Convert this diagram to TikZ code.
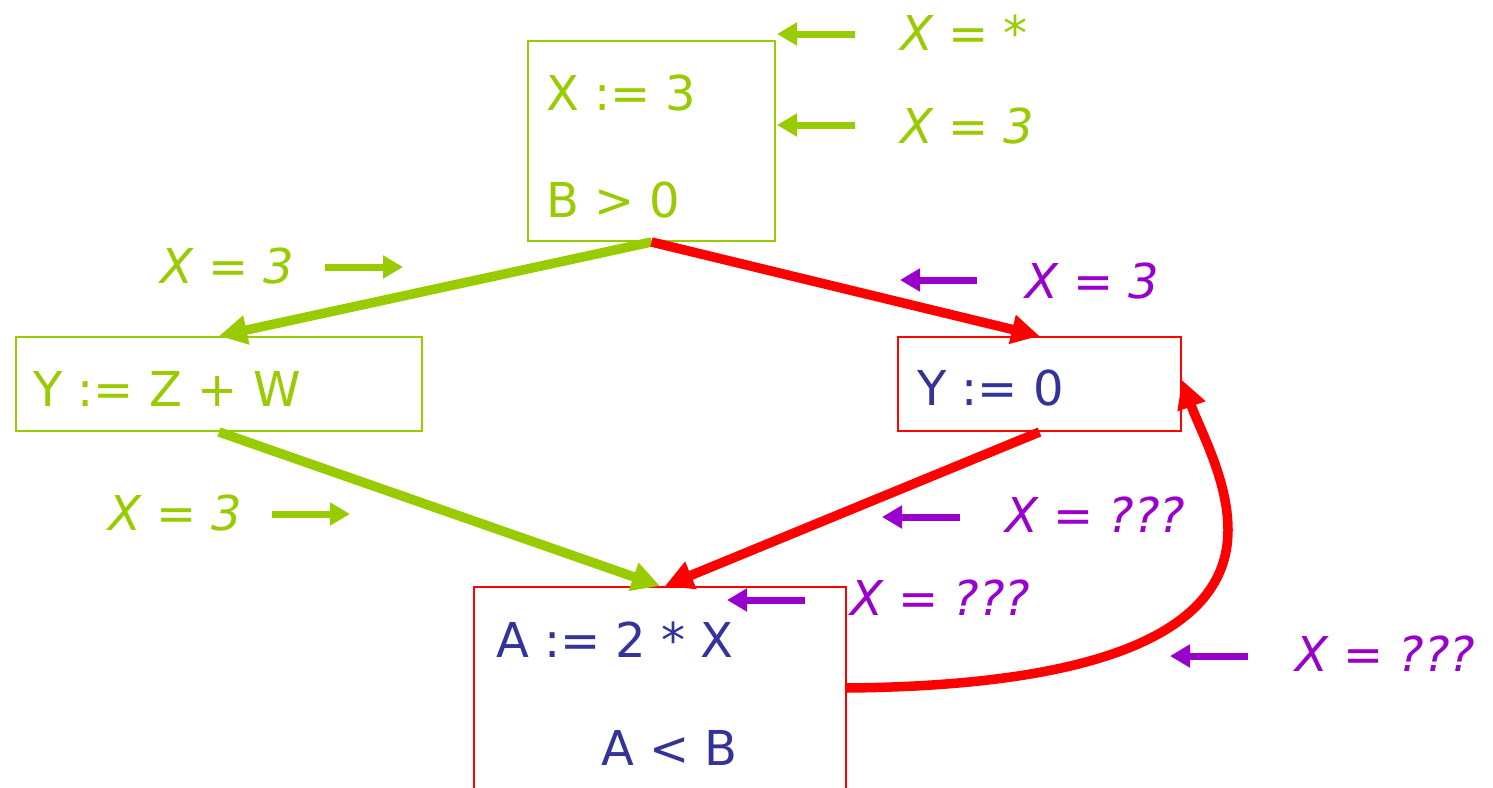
\documentclass[tikz,border=0pt]{standalone}
\usepackage{fontspec}
\setmainfont{DejaVu Sans}
\usetikzlibrary{arrows.meta}
\definecolor{cgreen}{HTML}{99CC00}
\definecolor{cred}{HTML}{FF0000}
\definecolor{cpurple}{HTML}{9900CC}
\definecolor{cnavy}{HTML}{333399}
\begin{document}
\begin{tikzpicture}[x=1pt,y=-1pt,
  box/.style={draw,line width=2pt,inner sep=0pt},
  code/.style={anchor=base west,inner sep=0pt,font=\fontsize{48}{56}\selectfont},
  lab/.style={anchor=base west,inner sep=0pt,font=\fontsize{48}{56}\selectfont\itshape},
  edge/.style={line width=9.5pt,-{Triangle[length=28pt,width=28pt]}},
  small/.style={line width=7pt,-{Triangle[length=20pt,width=22pt]}}]
\useasboundingbox[fill=white] (0,0) rectangle (1493,787);
% boxes
\node[box,draw=cgreen,minimum width=247pt,minimum height=200pt] (top) at (651.5,141) {};
\node[box,draw=cgreen,minimum width=406pt,minimum height=94pt] (left) at (219,384) {};
\node[box,draw=cred,minimum width=283pt,minimum height=94pt] (right) at (1039.5,384) {};
\node[box,draw=cred,minimum width=372pt,minimum height=226pt] (bot) at (660,700) {};
% box texts
\node[code,text=cgreen] (t1) at (546,110) {X := 3};
\node[code,text=cgreen] (t2) at (546,217) {B > 0};
\node[code,text=cgreen] (t3) at (33,406) {Y := Z + W};
\node[code,text=cnavy] (t4) at (917,405) {Y := 0};
\node[code,text=cnavy] (t5) at (496,657) {A := 2 * X};
\node[code,text=cnavy] (t6) at (601,765) {A < B};
% edges
\draw[edge,cgreen] (top.south) -- (left.north);
\draw[edge,cred] (top.south) -- (right.north);
\draw[edge,cgreen] (left.south) -- (bot.north);
\draw[edge,cred] (right.south) -- ([xshift=5pt]bot.north);
\coordinate (loopstart) at (846,688);
\coordinate (loopmid) at (1228,530);
\draw[edge,cred] (loopstart) .. controls (1080,686) and (1228,640) .. (loopmid)
  .. controls (1228,480) and (1200,430) .. ([yshift=4pt]right.east);
% labels
\node[lab,text=cgreen] (l1) at (900,50) {X = *};
\node[lab,text=cgreen] (l2) at (900,143) {X = 3};
\node[lab,text=cgreen] (l3) at (160,283) {X = 3};
\node[lab,text=cgreen] (l4) at (108,530) {X = 3};
\node[lab,text=cpurple] (l5) at (1025,298) {X = 3};
\node[lab,text=cpurple] (l6) at (1005,532) {X = ???};
\node[lab,text=cpurple] (l7) at (850,615) {X = ???};
\node[lab,text=cpurple] (l8) at (1295,671) {X = ???};
% label arrows
\coordinate (a1s) at (855,34);  \coordinate (a1e) at (777,34);
\coordinate (a2s) at (855,125); \coordinate (a2e) at (777,125);
\coordinate (a3s) at (325,267); \coordinate (a3e) at (403,267);
\coordinate (a4s) at (272,514); \coordinate (a4e) at (350,514);
\coordinate (a5s) at (977,280); \coordinate (a5e) at (900,280);
\coordinate (a6s) at (960,517); \coordinate (a6e) at (882,517);
\coordinate (a7s) at (805,600); \coordinate (a7e) at (727,600);
\coordinate (a8s) at (1248,656); \coordinate (a8e) at (1170,656);
\draw[small,cgreen] (a1s) -- (a1e);
\draw[small,cgreen] (a2s) -- (a2e);
\draw[small,cgreen] (a3s) -- (a3e);
\draw[small,cgreen] (a4s) -- (a4e);
\draw[small,cpurple] (a5s) -- (a5e);
\draw[small,cpurple] (a6s) -- (a6e);
\draw[small,cpurple] (a7s) -- (a7e);
\draw[small,cpurple] (a8s) -- (a8e);
\end{tikzpicture}
\end{document}
